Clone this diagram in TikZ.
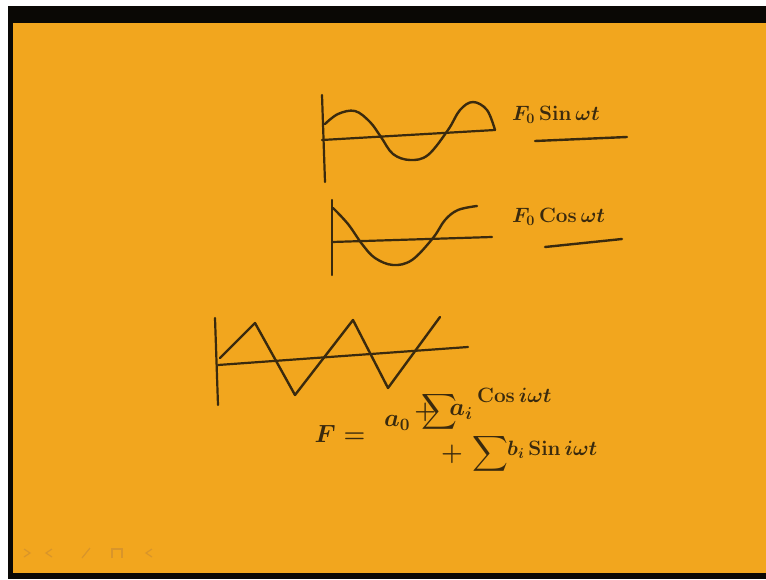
\documentclass[tikz,border=0pt]{standalone}
\usepackage{exscale}
\usetikzlibrary{positioning}
\definecolor{bdink}{HTML}{3A2A0E}
\definecolor{bdboard}{HTML}{F2A61E}
\definecolor{bdframe}{HTML}{0A0805}
\definecolor{bdghost}{HTML}{D9952A}
\tikzset{
  bd axis/.style={draw=bdink, line width=2.2pt, line cap=round},
  bd wave/.style={draw=bdink, line width=2.4pt, line cap=round, line join=round},
  bd label/.style={text=bdink, inner sep=1pt, font=\boldmath\fontsize{22}{24}\selectfont},
  bd formula/.style={text=bdink, inner sep=1pt, font=\boldmath\fontsize{26}{28}\selectfont},
  bd underline/.style={draw=bdink, line width=2.4pt, line cap=round},
  bd ghost/.style={draw=bdghost, line width=1.2pt}
}

\begin{document}
\begin{tikzpicture}[x=1pt, y=-1pt]
  \useasboundingbox (0,0) rectangle (766,579);
  % screen frame and board
  \fill[white] (0,0) rectangle (766,579);
  \fill[bdframe] (8,6) rectangle (766,579);
  \fill[bdboard] (13,23) rectangle (766,573);

  % sine
  \draw[bd axis] (322,95) -- (325,182);
  \draw[bd axis] (322,140) -- (495,130);
  \draw[bd wave] plot[smooth, tension=0.6] coordinates
    {(325,124) (338,114) (355,111) (370,122) (381,137) (393,154) (410,160) (428,155) (448,130) (460,110) (473,102) (487,110) (495,130)};
  \node[bd label, anchor=west] (sinlbl) at (511,115) {$F_0\,\mathrm{Sin}\,\omega t$};
  \draw[bd underline] (535,141) -- (627,137);

  % cosine
  \draw[bd axis] (332,200) -- (332,275);
  \draw[bd axis] (332,242) -- (492,237);
  \draw[bd wave] plot[smooth, tension=0.6] coordinates
    {(333,208) (348,224) (362,244) (375,258) (393,265) (412,260) (433,238) (445,220) (458,210) (477,206)};
  \node[bd label, anchor=west] (coslbl) at (511,217) {$F_0\,\mathrm{Cos}\,\omega t$};
  \draw[bd underline] (545,247) -- (622,239);

  % triangle wave
  \draw[bd axis] (215,318) -- (218,405);
  \draw[bd axis] (218,365) -- (468,347);
  \draw[bd wave] (220,358) -- (255,323) -- (295,395) -- (353,320) -- (388,388) -- (440,317);

  % series
  \node[bd formula, font=\boldmath\fontsize{34}{36}\selectfont] (lhs) at (340,434) {$F =$};
  \node[bd formula] (acoef) at (397,423) {$a_0$};
  \node[bd formula] (sumcos) at (436,412) {$+\mkern-12mu\displaystyle\sum$};
  \node[bd label, font=\boldmath\fontsize{24}{26}\selectfont] (acos) at (461,412) {$a_i$};
  \node[bd label, anchor=west] (costerm) at (476,395) {$\mathrm{Cos}\,i\omega t$};
  \node[bd formula, anchor=west] (sumsin) at (440,454) {$+\,\displaystyle\sum$};
  \node[bd label, anchor=west] (sinterm) at (506,450) {$b_i\,\mathrm{Sin}\,i\omega t$};

  % faint toolbar marks
  \draw[bd ghost] (24,549) -- (30,553) -- (24,557);
  \draw[bd ghost] (52,549) -- (46,553) -- (52,557);
  \draw[bd ghost] (82,558) -- (90,548);
  \draw[bd ghost] (112,558) -- (112,549) -- (122,549) -- (122,558);
  \draw[bd ghost] (152,549) -- (146,553) -- (152,557);
\end{tikzpicture}
\end{document}
